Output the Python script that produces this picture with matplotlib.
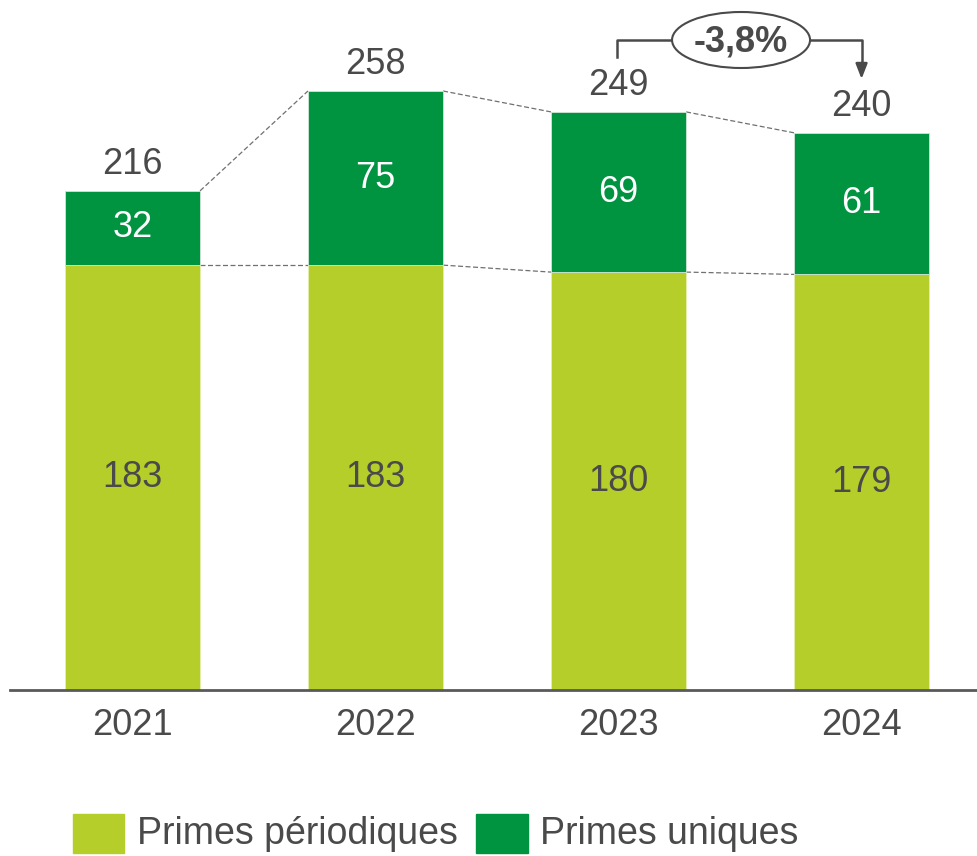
import matplotlib.pyplot as plt
from matplotlib.patches import Ellipse

# data
years = ['2021', '2022', '2023', '2024']
primes_periodiques = [183, 183, 180, 179]
primes_uniques = [32, 75, 69, 61]
totals = [216, 258, 249, 240]
variation_label = '-3,8%'

c_light = '#B5CE29'
c_dark = '#009340'
c_text = '#4A4A4A'

plt.rcParams['font.family'] = ['Liberation Sans', 'DejaVu Sans']

fig = plt.figure(figsize=(9.77, 8.56), dpi=100)
ax = fig.add_axes([10 / 977, 166 / 856, 967 / 977, 690 / 856])

x = list(range(len(years)))
width = 0.556

ax.bar(x, primes_periodiques, width=width, color=c_light, edgecolor='#E6EFB0', linewidth=0.6, zorder=2)
ax.bar(x, primes_uniques, width=width, bottom=primes_periodiques, color=c_dark,
       edgecolor='#CFE6D6', linewidth=0.6, zorder=2)

# dashed connectors between bars
for i in range(len(years) - 1):
    x0 = x[i] + width / 2
    x1 = x[i + 1] - width / 2
    t0 = primes_periodiques[i] + primes_uniques[i]
    t1 = primes_periodiques[i + 1] + primes_uniques[i + 1]
    ax.plot([x0, x1], [t0, t1], ls=(0, (4, 2)), color='#707070', lw=0.9, zorder=1)
    ax.plot([x0, x1], [primes_periodiques[i], primes_periodiques[i + 1]],
            ls=(0, (4, 2)), color='#707070', lw=0.9, zorder=1)

# labels
for i in x:
    p = primes_periodiques[i]
    u = primes_uniques[i]
    ax.text(i, p / 2, str(p), ha='center', va='center', fontsize=26, color=c_text, zorder=3)
    ax.text(i, p + u / 2, str(u), ha='center', va='center', fontsize=26, color='white', zorder=3)
    ax.text(i, p + u + 4, str(totals[i]), ha='center', va='bottom',
            fontsize=26, color=c_text, zorder=3)

ax.set_xlim(-0.504, 3.475)
ax.set_ylim(0, 297.2)

for s in ['top', 'right', 'left']:
    ax.spines[s].set_visible(False)
ax.spines['bottom'].set_color('#595959')
ax.spines['bottom'].set_linewidth(2)
ax.set_yticks([])
ax.set_xticks(x)
ax.set_xticklabels(years, fontsize=26, color=c_text)
ax.tick_params(axis='x', length=0, pad=13)

# variation annotation
px = 1 / 2.3217  # data units per pixel in y
y_br = 297.2 - 40 * px
y_left_end = 297.2 - 57 * px
y_arrow = 297.2 - 79 * px
xe = (741 - 132.5) / 243
ew = 138 / 243
eh = 56 * px
xl = x[2] - 0.006
xr = x[3]
ax.plot([xl, xl, xe - ew / 2], [y_left_end, y_br, y_br], color=c_text, lw=1.8,
        clip_on=False, zorder=4)
ax.plot([xe + ew / 2, xr, xr], [y_br, y_br, y_arrow + 12 * px], color=c_text, lw=1.8,
        clip_on=False, zorder=4)
ax.annotate('', xy=(xr, y_arrow), xytext=(xr, y_arrow + 16 * px),
            arrowprops=dict(arrowstyle='-|>,head_length=0.9,head_width=0.35', color=c_text, lw=1.8,
                            shrinkA=0, shrinkB=0), annotation_clip=False, zorder=4)
ax.add_patch(Ellipse((xe, y_br), ew, eh, facecolor='white', edgecolor=c_text, lw=1.5,
                     clip_on=False, zorder=5))
ax.text(xe, y_br - 1, variation_label, ha='center', va='center', fontsize=26, fontweight='bold',
        color=c_text, zorder=6)

# legend
fig.patches.append(plt.Rectangle((73 / 977, (856 - 853) / 856), 51 / 977, 39 / 856,
                                 transform=fig.transFigure, color=c_light))
fig.text(137 / 977, (856 - 834) / 856, 'Primes périodiques', fontsize=27, color=c_text,
         va='center', ha='left')
fig.patches.append(plt.Rectangle((476 / 977, (856 - 853) / 856), 52 / 977, 39 / 856,
                                 transform=fig.transFigure, color=c_dark))
fig.text(540 / 977, (856 - 834) / 856, 'Primes uniques', fontsize=27, color=c_text,
         va='center', ha='left')

fig.savefig('out.png', dpi=100)
